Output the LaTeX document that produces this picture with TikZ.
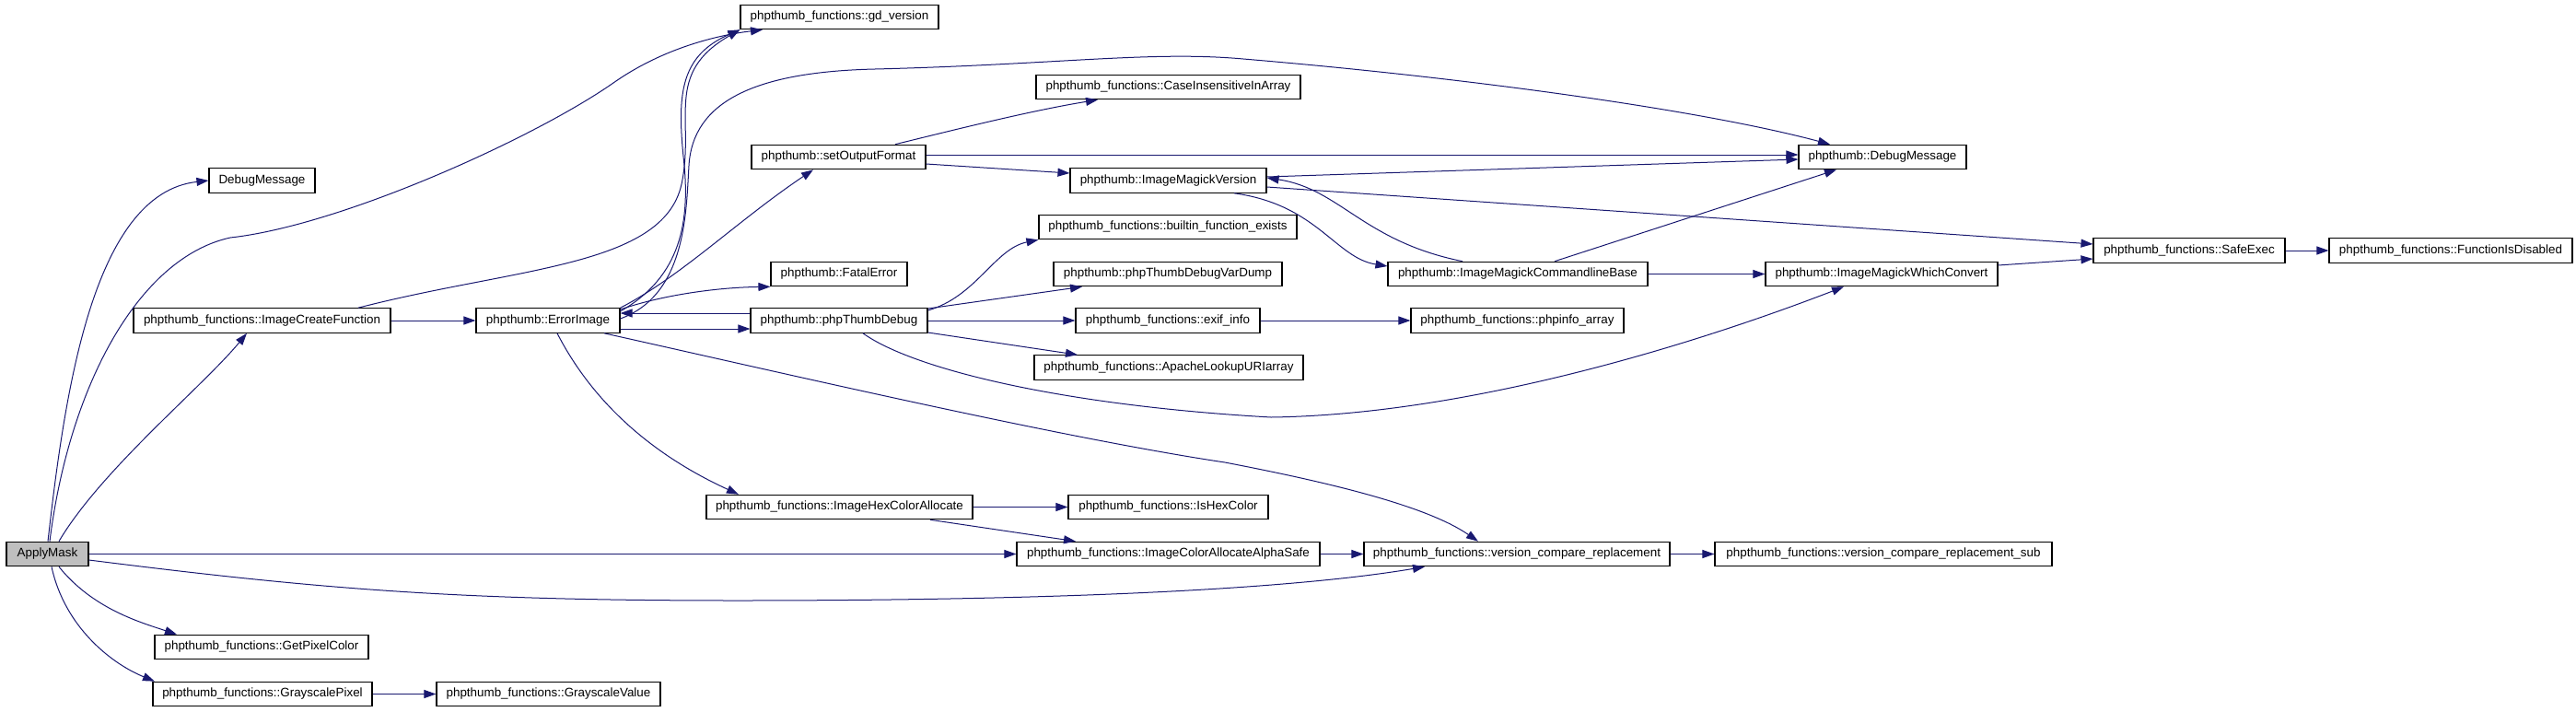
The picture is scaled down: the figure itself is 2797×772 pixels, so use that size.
\documentclass[tikz,border=0pt]{standalone}
\usepackage{fontspec}
\setmainfont{Liberation Sans}
\usetikzlibrary{arrows.meta}
\definecolor{edgeblue}{HTML}{191970}
\definecolor{curgray}{HTML}{BFBFBF}
\tikzset{
  fn/.style={draw=black, line width=0.55pt, rectangle, inner sep=0pt,
    minimum height=13.25pt, font=\fontsize{6.7}{8}\selectfont},
  cur/.style={fn, fill=curgray},
  call/.style={draw=edgeblue, line width=0.5pt,
    -{Triangle[length=6.5pt,width=4.5pt]}, edgeblue}
}
\begin{document}
\begin{tikzpicture}[x=0.5pt,y=-0.5pt]
\useasboundingbox (0,0) rectangle (2797,772);
% functions
\node[cur, minimum width=44.5pt] (applymask) at (51.5,601.5) {ApplyMask};
\node[fn, minimum width=57.5pt] (debugmsg) at (284.5,196) {DebugMessage};
\node[fn, minimum width=139.5pt] (createfn) at (284.5,348) {phpthumb\_functions::ImageCreateFunction};
\node[fn, minimum width=116pt] (getpixel) at (284,702.5) {phpthumb\_functions::GetPixelColor};
\node[fn, minimum width=119pt] (graypixel) at (285,753.5) {phpthumb\_functions::GrayscalePixel};
\node[fn, minimum width=121.5pt] (grayvalue) at (595.5,753.5) {phpthumb\_functions::GrayscaleValue};
\node[fn, minimum width=107.5pt] (gdversion) at (911.5,18.5) {phpthumb\_functions::gd\_version};
\node[fn, minimum width=78pt] (errorimage) at (595,348) {phpthumb::ErrorImage};
\node[fn, minimum width=94.5pt] (setoutput) at (910.5,170.5) {phpthumb::setOutputFormat};
\node[fn, minimum width=74pt] (fatalerror) at (911,297.5) {phpthumb::FatalError};
\node[fn, minimum width=96pt] (thumbdebug) at (911,348) {phpthumb::phpThumbDebug};
\node[fn, minimum width=144.5pt] (hexalloc) at (911.5,550.5) {phpthumb\_functions::ImageHexColorAllocate};
\node[fn, minimum width=143.5pt] (caseinsens) at (1268.5,94.5) {phpthumb\_functions::CaseInsensitiveInArray};
\node[fn, minimum width=106.5pt] (imversion) at (1268.5,196) {phpthumb::ImageMagickVersion};
\node[fn, minimum width=140pt] (builtin) at (1268,246.5) {phpthumb\_functions::builtin\_function\_exists};
\node[fn, minimum width=124pt] (vardump) at (1268,297.5) {phpthumb::phpThumbDebugVarDump};
\node[fn, minimum width=100pt] (exifinfo) at (1268,348) {phpthumb\_functions::exif\_info};
\node[fn, minimum width=146pt] (apache) at (1269,399) {phpthumb\_functions::ApacheLookupURIarray};
\node[fn, minimum width=108.5pt] (ishex) at (1268.5,550.5) {phpthumb\_functions::IsHexColor};
\node[fn, minimum width=164.5pt] (alphasafe) at (1268.5,601.5) {phpthumb\_functions::ImageColorAllocateAlphaSafe};
\node[fn, minimum width=91pt] (phpdebugmsg) at (2044,170.5) {phpthumb::DebugMessage};
\node[fn, minimum width=141pt] (cmdbase) at (1648,297.5) {phpthumb::ImageMagickCommandlineBase};
\node[fn, minimum width=115.5pt] (phpinfo) at (1647.5,348) {phpthumb\_functions::phpinfo\_array};
\node[fn, minimum width=166pt] (vcompare) at (1647,601.5) {phpthumb\_functions::version\_compare\_replacement};
\node[fn, minimum width=126pt] (whichconv) at (2043,297.5) {phpthumb::ImageMagickWhichConvert};
\node[fn, minimum width=183pt] (vcomparesub) at (2045,601.5) {phpthumb\_functions::version\_compare\_replacement\_sub};
\node[fn, minimum width=104pt] (safeexec) at (2377,272) {phpthumb\_functions::SafeExec};
\node[fn, minimum width=132pt] (fndisabled) at (2661,272) {phpthumb\_functions::FunctionIsDisabled};
% calls from ApplyMask
\draw[call] (applymask.north -| 52,0) .. controls (70,430) and (100,210) .. (debugmsg.west);
\draw[call] (applymask.north -| 54,0) .. controls (75,420) and (150,280) .. (250,258)
  .. controls (370,245) and (580,150) .. (666,90)
  .. controls (720,52) and (780,38) .. (gdversion.south -| 828,0);
\draw[call] (applymask.north -| 64,0) .. controls (110,510) and (220,420) .. (createfn.south -| 268,0);
\draw[call] (applymask.east) -- (alphasafe.west);
\draw[call] (applymask.east |- 0,608) .. controls (350,640) and (500,652) .. (800,652)
  .. controls (1150,652) and (1400,640) .. (vcompare.south -| 1547,0);
\draw[call] (applymask.south -| 64,0) .. controls (100,660) and (150,675) .. (getpixel.north -| 192,0);
\draw[call] (applymask.south -| 56,0) .. controls (70,680) and (120,720) .. (graypixel.north -| 168,0);
\draw[call] (graypixel) -- (grayvalue);
% ImageCreateFunction
\draw[call] (createfn) -- (errorimage);
\draw[call] (createfn.north -| 389,0) .. controls (560,290) and (720,290) .. (740,200)
  .. controls (755,130) and (720,80) .. (gdversion.south west);
% ErrorImage
\draw[call] (errorimage.east |- 0,338) .. controls (740,300) and (750,240) .. (742,170)
  .. controls (735,100) and (740,60) .. (gdversion.south west);
\draw[call] (errorimage.east |- 0,346) .. controls (745,320) and (745,230) .. (748,180)
  .. controls (752,110) and (820,78) .. (950,75)
  .. controls (1150,70) and (1250,55) .. (1350,64)
  .. controls (1600,85) and (1850,120) .. (phpdebugmsg.north -| 1987,0);
\draw[call] (errorimage.north east) .. controls (740,300) and (800,240) .. (setoutput.south -| 883,0);
\draw[call] (errorimage.east |- 0,336) .. controls (720,320) and (780,312) .. (fatalerror.south west);
\draw[call] (errorimage.east |- 0,357) -- (thumbdebug.west |- 0,357);
\draw[call] (thumbdebug.west |- 0,340) -- (errorimage.east |- 0,340);
\draw[call] (errorimage.south -| 605,0) .. controls (640,430) and (700,490) .. (hexalloc.north -| 802,0);
\draw[call] (errorimage.south -| 656,0) .. controls (850,405) and (1150,475) .. (1330,502)
  .. controls (1450,525) and (1550,550) .. (vcompare.north -| 1605,0);
% ImageHexColorAllocate
\draw[call] (hexalloc) -- (ishex);
\draw[call] (hexalloc.south -| 1010,0) -- (alphasafe.north -| 1168,0);
\draw[call] (alphasafe) -- (vcompare);
\draw[call] (vcompare) -- (vcomparesub);
% setOutputFormat
\draw[call] (setoutput.north -| 972,0) .. controls (1040,140) and (1120,120) .. (caseinsens.south -| 1192,0);
\draw[call] (setoutput.east |- 0,168) -- (phpdebugmsg.west |- 0,168);
\draw[call] (setoutput.east |- 0,178) -- (imversion.west |- 0,188);
% ImageMagickVersion
\draw[call] (imversion.east |- 0,192) -- (phpdebugmsg.west |- 0,173);
\draw[call] (cmdbase.north -| 1588,0) .. controls (1480,262) and (1455,205) .. (imversion.east |- 0,193);
\draw[call] (imversion.south -| 1340,0) .. controls (1430,222) and (1450,280) .. (cmdbase.west |- 0,289);
\draw[call] (imversion.east |- 0,203) -- (safeexec.west |- 0,265);
\draw[call] (cmdbase.north -| 1688,0) -- (phpdebugmsg.south -| 1994,0);
\draw[call] (cmdbase) -- (whichconv);
\draw[call] (whichconv.east |- 0,288) -- (safeexec.west |- 0,281);
\draw[call] (safeexec) -- (fndisabled);
% phpThumbDebug
\draw[call] (thumbdebug.east |- 0,337) .. controls (1060,322) and (1080,270) .. (builtin.south west);
\draw[call] (thumbdebug.east |- 0,335) -- (vardump.south -| 1175,0);
\draw[call] (thumbdebug) -- (exifinfo);
\draw[call] (thumbdebug.east |- 0,361) -- (apache.north -| 1170,0);
\draw[call] (thumbdebug.south -| 937,0) .. controls (990,400) and (1150,440) .. (1380,453)
  .. controls (1600,450) and (1850,370) .. (whichconv.south -| 2002,0);
\draw[call] (exifinfo) -- (phpinfo);
\end{tikzpicture}
\end{document}
